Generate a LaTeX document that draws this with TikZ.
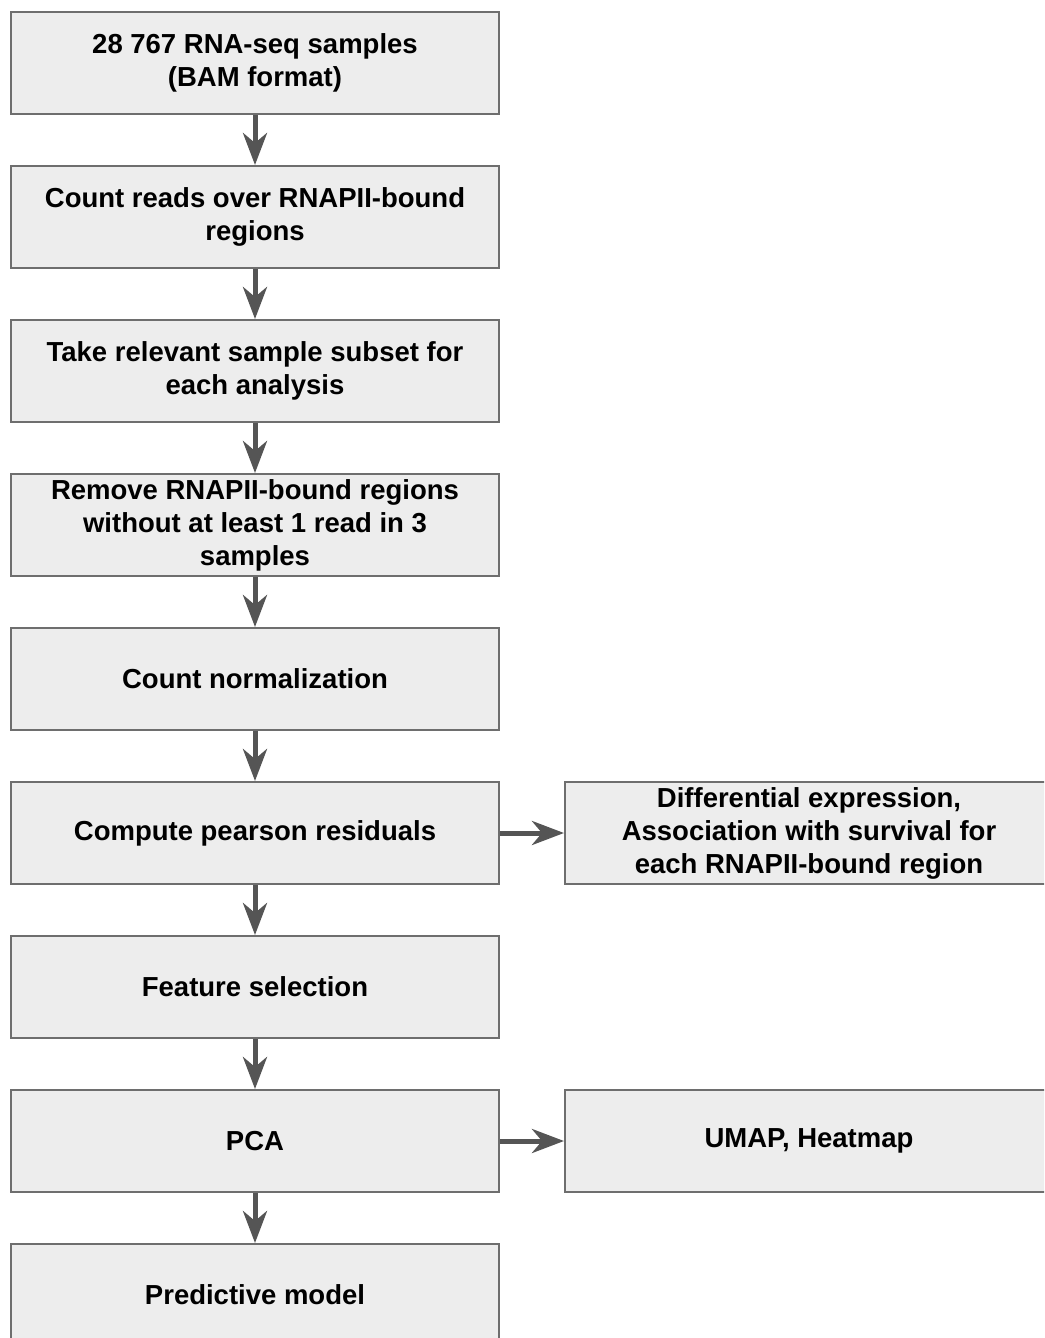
\documentclass[tikz,border=0pt]{standalone}
\usepackage{fontspec}
\setmainfont{Liberation Sans}
\usetikzlibrary{arrows.meta, positioning}
\definecolor{boxfill}{HTML}{EDEDED}
\definecolor{boxline}{HTML}{6E6E6E}
\definecolor{arrowgray}{HTML}{555555}
\tikzset{
	stage/.style={draw=boxline, line width=2pt, fill=boxfill, minimum width=488pt, minimum height=102pt, align=center, font=\fontsize{27.5}{33}\selectfont\bfseries, inner sep=0pt},
	flow/.style={draw=arrowgray, line width=5pt, -{Stealth[length=32pt, width=24pt, inset=10pt]}}
}

\begin{document}
\begin{tikzpicture}[x=1pt, y=1pt]
	\useasboundingbox (0,0) rectangle (1044,-1338);
	\clip (0,0) rectangle (1044,-1338);
	\node[stage] (samples) at (255,-63) {28 767 RNA-seq samples\\(BAM format)};
	\node[stage] (count) at (255,-217) {Count reads over RNAPII-bound\\regions};
	\node[stage] (subset) at (255,-371) {Take relevant sample subset for\\each analysis};
	\node[stage] (filter) at (255,-525) {Remove RNAPII-bound regions\\without at least 1 read in 3\\samples};
	\node[stage] (norm) at (255,-679) {Count normalization};
	\node[stage] (resid) at (255,-833) {Compute pearson residuals};
	\node[stage] (select) at (255,-987) {Feature selection};
	\node[stage] (pca) at (255,-1141) {PCA};
	\node[stage] (model) at (255,-1295) {Predictive model};
	\node[stage] (diffexp) at (809,-833) {Differential expression,\\Association with survival for\\each RNAPII-bound region};
	\node[stage] (umap) at (809,-1141) {UMAP, Heatmap};
	\draw[flow] (samples) -- (count);
	\draw[flow] (count) -- (subset);
	\draw[flow] (subset) -- (filter);
	\draw[flow] (filter) -- (norm);
	\draw[flow] (norm) -- (resid);
	\draw[flow] (resid) -- (select);
	\draw[flow] (select) -- (pca);
	\draw[flow] (pca) -- (model);
	\draw[flow] (resid) -- (diffexp);
	\draw[flow] (pca) -- (umap);
\end{tikzpicture}
\end{document}
